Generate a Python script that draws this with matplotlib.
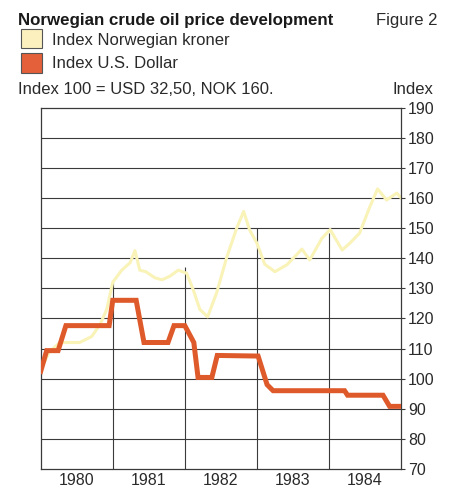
import matplotlib.pyplot as plt
import numpy as np

plt.rcParams["font.family"] = ["Liberation Sans", "DejaVu Sans"]

# months since Jan 1980 and index values
usd_month = [0, 1, 2.9, 4.2, 11.4, 12, 15.9, 17.2, 21.2, 22.2, 24, 25.5, 26.2,
             28.5, 29.4, 36.2, 37.7, 38.7, 50.6, 51.1, 57, 58.1, 60]
usd_index = [102.4, 109.3, 109.3, 117.6, 117.6, 126, 126, 112, 112, 117.6,
             117.6, 112, 100.4, 100.4, 107.7, 107.5, 98, 96, 96, 94.5, 94.5,
             90.8, 90.8]

nok_month = [0, 1.5, 3.2, 4.9, 6.5, 8.5, 9.9, 11, 12, 13.5, 14.9, 15.7, 16.5,
             17.5, 19, 20.2, 21.5, 22.9, 24.3, 25.4, 26.5, 27.8, 29.3, 31,
             32.7, 33.8, 34.8, 36, 37.3, 39, 41, 43.5, 44.8, 46.8, 48.2, 50.2,
             51.5, 53.1, 54.8, 56.1, 57.6, 59.3, 60]
nok_index = [103, 109, 112, 112, 112, 114, 118, 123, 132, 136, 138.5, 142.5,
             136, 135.5, 133.5, 132.8, 134, 136, 135, 129.5, 123, 120.5, 128.5,
             140.4, 150.3, 155.5, 149.3, 145, 138, 135.5, 137.8, 143, 139.4,
             146.5, 149.5, 142.7, 145, 148.3, 157, 163, 159.3, 161.6, 160]

years = [1980, 1981, 1982, 1983, 1984]
divider_years = [1981, 1982, 1983, 1984]
divider_tops = [132, 137, 150, 148.5]
yticks = list(range(70, 200, 10))

usd_color = "#df5a2b"
nok_color = "#f9f3b8"
grid_color = "#3a3a3a"
text_color = "#2a2a2a"

fig = plt.figure(figsize=(4.54, 4.90), dpi=100)
ax = fig.add_axes([0.0896, 0.0428, 0.7937, 0.7378])

ax.hlines(yticks[1:-1], 1980, 1985, color=grid_color, lw=0.8, zorder=1)
ax.vlines(divider_years, 70, divider_tops, color=grid_color, lw=0.8, zorder=1)

ax.plot(1980 + np.array(nok_month) / 12, nok_index, color=nok_color, lw=2.2,
        solid_joinstyle="round", zorder=2)
ax.plot(1980 + np.array(usd_month) / 12, usd_index, color=usd_color, lw=3.6,
        solid_joinstyle="miter", zorder=3)

ax.set_xlim(1980, 1985)
ax.set_ylim(70, 190)
for s in ax.spines.values():
    s.set_color(grid_color)
    s.set_linewidth(0.9)

ax.yaxis.tick_right()
ax.set_yticks(yticks)
ax.tick_params(axis="y", length=3, width=0.8, color=grid_color, pad=2,
               labelsize=11.5, labelcolor=text_color)
ax.set_xticks([y + 0.5 for y in years])
ax.set_xticklabels([str(y) for y in years])
ax.tick_params(axis="x", length=0, pad=3, labelsize=11.5, labelcolor=text_color)

fig.text(18 / 454, 1 - 21 / 490, "Norwegian crude oil price development",
         fontsize=12.2, fontweight="bold", color="#1a1a1a", va="center")
fig.text(437 / 454, 1 - 21 / 490, "Figure 2", fontsize=12, color=text_color,
         va="center", ha="right")

fig.patches.append(plt.Rectangle((21 / 454, 1 - 48 / 490), 21 / 454, 19 / 490,
                                 transform=fig.transFigure, facecolor="#fcf1be",
                                 edgecolor="#555555", lw=0.8))
fig.patches.append(plt.Rectangle((21 / 454, 1 - 73 / 490), 21 / 454, 20 / 490,
                                 transform=fig.transFigure, facecolor="#e3603a",
                                 edgecolor="#555555", lw=0.8))
fig.text(52 / 454, 1 - 40 / 490, "Index Norwegian kroner", fontsize=12,
         color=text_color, va="center")
fig.text(52 / 454, 1 - 64 / 490, "Index U.S. Dollar", fontsize=12,
         color=text_color, va="center")
fig.text(18 / 454, 1 - 89 / 490, "Index 100 = USD 32,50, NOK 160.",
         fontsize=12, color=text_color, va="center")
fig.text(433 / 454, 1 - 89 / 490, "Index", fontsize=12, color=text_color,
         va="center", ha="right")

fig.savefig("out.png", dpi=100)
